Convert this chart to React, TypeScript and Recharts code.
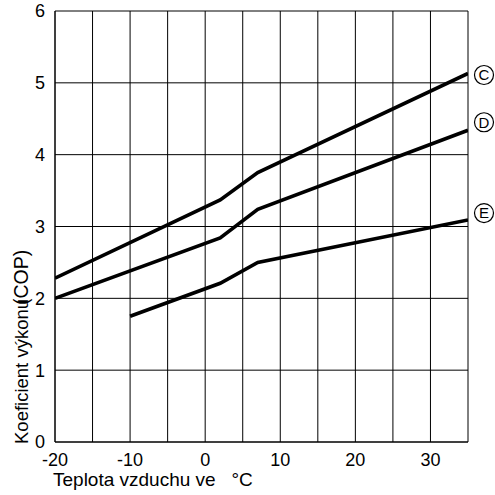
import React from 'react';
import { LineChart, Line, XAxis, YAxis, CartesianGrid, LabelList, Label } from 'recharts';

const seriesNames = ['C', 'D', 'E'];
const cTemps = [-20, 2, 7, 35];
const cCop = [2.28, 3.37, 3.75, 5.13];
const dTemps = [-20, 2, 7, 35];
const dCop = [2.0, 2.84, 3.24, 4.34];
const eTemps = [-10, 2, 7, 35];
const eCop = [1.75, 2.21, 2.5, 3.09];
const xTicks = [-20, -15, -10, -5, 0, 5, 10, 15, 20, 25, 30, 35];
const xLabeled = [-20, -10, 0, 10, 20, 30];
const yTicks = [0, 1, 2, 3, 4, 5, 6];
const xTitle = 'Teplota vzduchu ve\u00a0\u00a0 °C';
const yTitleMain = 'Koeficient výkonu';
const yTitleUnit = '(COP)';

const FONT = '"Liberation Sans", Arial, sans-serif';

const build = (temps: number[], cops: number[]) => temps.map((t, i) => ({ t, cop: cops[i] }));
const seriesData = [build(cTemps, cCop), build(dTemps, dCop), build(eTemps, eCop)];
const markDy = [1.5, -8, -7];

const makeEndMark = (name: string, dy: number, lastIndex: number) => (props: any) => {
  const { x, y, index } = props;
  if (index !== lastIndex || x == null || y == null) return null;
  const cx = Number(x) + 16;
  const cy = Number(y) + dy;
  return (
    <g>
      <circle cx={cx} cy={cy} r={9.5} fill="#fff" stroke="#000" strokeWidth={1.2} />
      <text x={cx} y={cy} dy="0.36em" textAnchor="middle" fontSize={15} fontFamily={FONT} fill="#000">
        {name}
      </text>
    </g>
  );
};

const YTitle = (props: any) => {
  const vb = props.viewBox || { x: 0, y: 11, width: 55, height: 431 };
  const bx = vb.x + 28;
  const bottom = vb.y + vb.height + 2;
  const unitStart = vb.y + 294;
  return (
    <g>
      <text x={bx} y={bottom} transform={`rotate(-90, ${bx}, ${bottom})`} textAnchor="start" fontSize={18.5} fontFamily={FONT} fill="#000">
        {yTitleMain}
      </text>
      <text x={bx} y={unitStart} transform={`rotate(-90, ${bx}, ${unitStart})`} textAnchor="start" fontSize={19.5} fontFamily={FONT} fill="#000">
        {yTitleUnit}
      </text>
    </g>
  );
};

const XTitle = (props: any) => {
  const vb = props.viewBox || { x: 55, y: 442, width: 413, height: 53 };
  return (
    <text x={vb.x - 2} y={vb.y + 44} textAnchor="start" fontSize={19} fontFamily={FONT} fill="#000">
      {xTitle}
    </text>
  );
};

export default function App() {
  return (
    <div style={{ position: 'absolute', left: 0, top: 0, width: 495, height: 495, background: '#fff' }}>
      <LineChart width={495} height={495} margin={{ top: 11, right: 27, bottom: 0, left: 0 }}>
        <CartesianGrid stroke="#000" strokeWidth={1} />
        <XAxis
          type="number"
          dataKey="t"
          domain={[-20, 35]}
          ticks={xTicks}
          interval={0}
          allowDataOverflow
          height={53}
          tickLine={false}
          tickMargin={5}
          axisLine={{ stroke: '#000', strokeWidth: 1 }}
          tick={{ fill: '#000', fontSize: 18, fontFamily: FONT }}
          tickFormatter={(v: number) => (xLabeled.includes(v) ? String(v) : '')}
        >
          <Label content={XTitle} position="insideBottomLeft" />
        </XAxis>
        <YAxis
          type="number"
          domain={[0, 6]}
          ticks={yTicks}
          interval={0}
          width={55}
          tickLine={false}
          tickMargin={4}
          axisLine={{ stroke: '#000', strokeWidth: 1 }}
          tick={{ fill: '#000', fontSize: 18, fontFamily: FONT }}
        >
          <Label content={YTitle} position="insideLeft" />
        </YAxis>
        {seriesData.map((d, i) => (
          <Line
            key={seriesNames[i]}
            data={d}
            dataKey="cop"
            type="linear"
            stroke="#000"
            strokeWidth={3.6}
            dot={false}
            activeDot={false}
            isAnimationActive={false}
          >
            <LabelList dataKey="cop" content={makeEndMark(seriesNames[i], markDy[i], d.length - 1)} />
          </Line>
        ))}
      </LineChart>
    </div>
  );
}
